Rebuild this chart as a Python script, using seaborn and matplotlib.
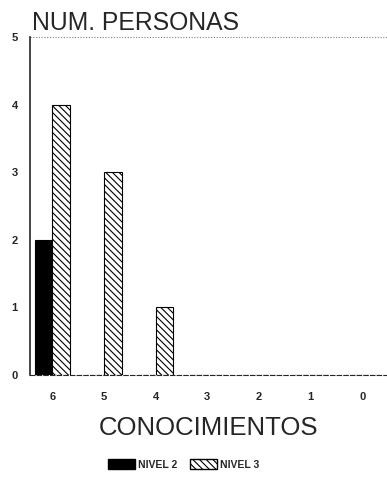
import matplotlib
matplotlib.use("Agg")
import matplotlib.pyplot as plt
import seaborn as sns
import pandas as pd

categorias = ["6", "5", "4", "3", "2", "1", "0"]
nivel_2 = [2, 0, 0, 0, 0, 0, 0]
nivel_3 = [4, 3, 1, 0, 0, 0, 0]
series = ["NIVEL 2", "NIVEL 3"]
y_ticks = [0, 1, 2, 3, 4, 5]

df = pd.DataFrame({
    "cat": categorias * 2,
    "val": nivel_2 + nivel_3,
    "serie": [series[0]] * len(categorias) + [series[1]] * len(categorias),
})

sns.set_style("white")
plt.rcParams["font.family"] = ["Liberation Sans", "DejaVu Sans"]
plt.rcParams["hatch.linewidth"] = 0.8

fig = plt.figure(figsize=(3.87, 4.8), dpi=100)
ax = fig.add_axes([0.078, 0.219, 0.922, 0.704])

sns.barplot(data=df, x="cat", y="val", hue="serie", order=categorias,
            hue_order=series, palette=["black", "white"], width=0.68,
            edgecolor="black", linewidth=0.8, ax=ax, legend=False)

for bar in ax.containers[1]:
    bar.set_hatch("\\\\\\\\\\")

ax.set_xlim(-0.43, 6.48)
ax.set_ylim(0, 5)
ax.set_yticks(y_ticks)
ax.set_yticklabels([str(t) for t in y_ticks], fontsize=8, fontweight="bold")
ax.set_xticklabels(categorias, fontsize=8, fontweight="bold")
ax.tick_params(axis="x", length=3, pad=11, direction="inout")
ax.tick_params(axis="y", length=3, pad=6)
ax.set_xlabel("CONOCIMIENTOS", fontsize=18.5, labelpad=10)
ax.set_ylabel("")

for s in ["top", "right"]:
    ax.spines[s].set_visible(False)
ax.spines["left"].set_linewidth(1.2)
ax.spines["bottom"].set_linewidth(0.8)
ax.spines["bottom"].set_linestyle((0, (4, 2)))
ax.axhline(5, color="gray", lw=0.8, ls=(0, (1, 1.5)), clip_on=False)

fig.text(0.083, 0.938, "NUM. PERSONAS", fontsize=17.8, ha="left", va="baseline")

handles = [plt.Rectangle((0, 0), 1, 1, facecolor="black", edgecolor="black"),
           plt.Rectangle((0, 0), 1, 1, facecolor="white", edgecolor="black",
                         hatch="\\\\\\\\\\")]
fig.legend(handles, series, loc="center", bbox_to_anchor=(0.475, 0.032), ncol=2,
           frameon=False, prop={"size": 7.5, "weight": "bold"},
           handlelength=2.6, handleheight=1.1, columnspacing=1.2, handletextpad=0.3)

fig.savefig("out.png", dpi=100)
